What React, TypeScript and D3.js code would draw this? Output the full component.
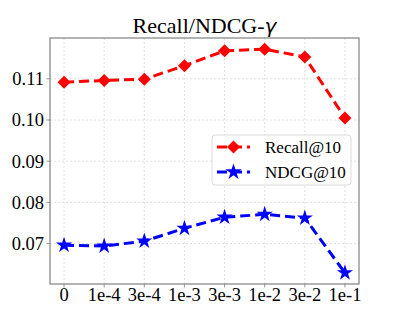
import * as d3 from "d3";

const categories = ["0", "1e-4", "3e-4", "1e-3", "3e-3", "1e-2", "3e-2", "1e-1"];
const recall = [0.1092, 0.1096, 0.1099, 0.1132, 0.1168, 0.1172, 0.1153, 0.1005];
const ndcg = [0.0696, 0.0694, 0.0706, 0.0737, 0.0764, 0.0771, 0.0762, 0.0629];
const yTicks = [0.07, 0.08, 0.09, 0.1, 0.11];
const seriesNames = ["Recall@10", "NDCG@10"];

const W = 399;
const H = 319;
const left = 50;
const right = 359;
const top = 38;
const bottom = 284;

const serif = "'Liberation Serif', 'Times New Roman', serif";

// matplotlib style diamond / star markers
const diamond = (r: number) => `M0,${-r}L${r},0L0,${r}L${-r},0Z`;
const star = (r: number) => {
  const inner = r * 0.381966;
  const pts: string[] = [];
  for (let i = 0; i < 10; i++) {
    const a = (Math.PI / 5) * i - Math.PI / 2;
    const rr = i % 2 === 0 ? r : inner;
    pts.push(`${rr * Math.cos(a)},${rr * Math.sin(a)}`);
  }
  return "M" + pts.join("L") + "Z";
};

export default function App() {
  const x = d3
    .scaleLinear()
    .domain([-0.35, categories.length - 1 + 0.35])
    .range([left, right]);
  const all = [...recall, ...ndcg];
  const lo = d3.min(all)!;
  const hi = d3.max(all)!;
  const pad = (hi - lo) * 0.05;
  const y = d3.scaleLinear().domain([lo - pad, hi + pad]).range([bottom, top]);

  const line = d3
    .line<number>()
    .x((_, i) => x(i))
    .y((d) => y(d));

  const series = [
    { name: seriesNames[0], data: recall, color: "#ff0000", marker: diamond(6.5) },
    { name: seriesNames[1], data: ndcg, color: "#0000ff", marker: star(8.5) },
  ];

  return (
    <svg
      width={W}
      height={H}
      style={{ position: "absolute", left: 0, top: 0, background: "#fff" }}
    >
      {/* grid */}
      {categories.map((_, i) => (
        <line
          key={"gx" + i}
          x1={x(i)}
          x2={x(i)}
          y1={top}
          y2={bottom}
          stroke="#d8d8d8"
          strokeWidth={0.8}
          strokeDasharray="2,2"
        />
      ))}
      {yTicks.map((t) => (
        <line
          key={"gy" + t}
          x1={left}
          x2={right}
          y1={y(t)}
          y2={y(t)}
          stroke="#d8d8d8"
          strokeWidth={0.8}
          strokeDasharray="2,2"
        />
      ))}

      {/* lines and markers */}
      {series.map((s) => (
        <g key={s.name}>
          <path
            d={line(s.data)!}
            fill="none"
            stroke={s.color}
            strokeWidth={3}
            strokeDasharray="10,5"
          />
          {s.data.map((v, i) => (
            <path
              key={i}
              d={s.marker}
              transform={`translate(${x(i)},${y(v)})`}
              fill={s.color}
            />
          ))}
        </g>
      ))}

      {/* frame */}
      <rect
        x={left}
        y={top}
        width={right - left}
        height={bottom - top}
        fill="none"
        stroke="#808080"
        strokeWidth={1.2}
      />

      {/* ticks */}
      {categories.map((c, i) => (
        <line key={"xk" + c} x1={x(i)} x2={x(i)} y1={bottom} y2={bottom + 3.5} stroke="#808080" strokeWidth={0.8} />
      ))}
      {yTicks.map((t) => (
        <line key={"yk" + t} x1={left - 3.5} x2={left} y1={y(t)} y2={y(t)} stroke="#808080" strokeWidth={0.8} />
      ))}

      {/* tick labels */}
      {categories.map((c, i) => (
        <text
          key={"xt" + c}
          x={x(i)}
          y={301}
          textAnchor="middle"
          fontFamily={serif}
          fontSize={18.5}
          fill="#000"
        >
          {c}
        </text>
      ))}
      {yTicks.map((t) => (
        <text
          key={"yt" + t}
          x={44}
          y={y(t)}
          dy="0.35em"
          textAnchor="end"
          fontFamily={serif}
          fontSize={18.5}
          fill="#000"
        >
          {d3.format(".2f")(t)}
        </text>
      ))}

      {/* title */}
      <text
        x={(left + right) / 2}
        y={33}
        textAnchor="middle"
        fontFamily={serif}
        fontSize={22}
        fill="#000"
      >
        Recall/NDCG-
        <tspan fontFamily="'DejaVu Sans', sans-serif" fontStyle="italic" fontSize={20}>
          γ
        </tspan>
      </text>

      {/* legend */}
      <g>
        <rect
          x={212}
          y={135}
          width={139}
          height={50}
          rx={3}
          fill="#fff"
          fillOpacity={0.8}
          stroke="#d0d0d0"
          strokeWidth={0.8}
        />
        {series.map((s, i) => {
          const ly = 147 + i * 25;
          return (
            <g key={"lg" + s.name}>
              <line
                x1={217}
                x2={250}
                y1={ly}
                y2={ly}
                stroke={s.color}
                strokeWidth={3}
                strokeDasharray="10,5"
              />
              <path d={s.marker} transform={`translate(233.5,${ly})`} fill={s.color} />
              <text
                x={265}
                y={ly}
                dy="0.35em"
                fontFamily={serif}
                fontSize={17}
                fill="#000"
              >
                {s.name}
              </text>
            </g>
          );
        })}
      </g>
    </svg>
  );
}
